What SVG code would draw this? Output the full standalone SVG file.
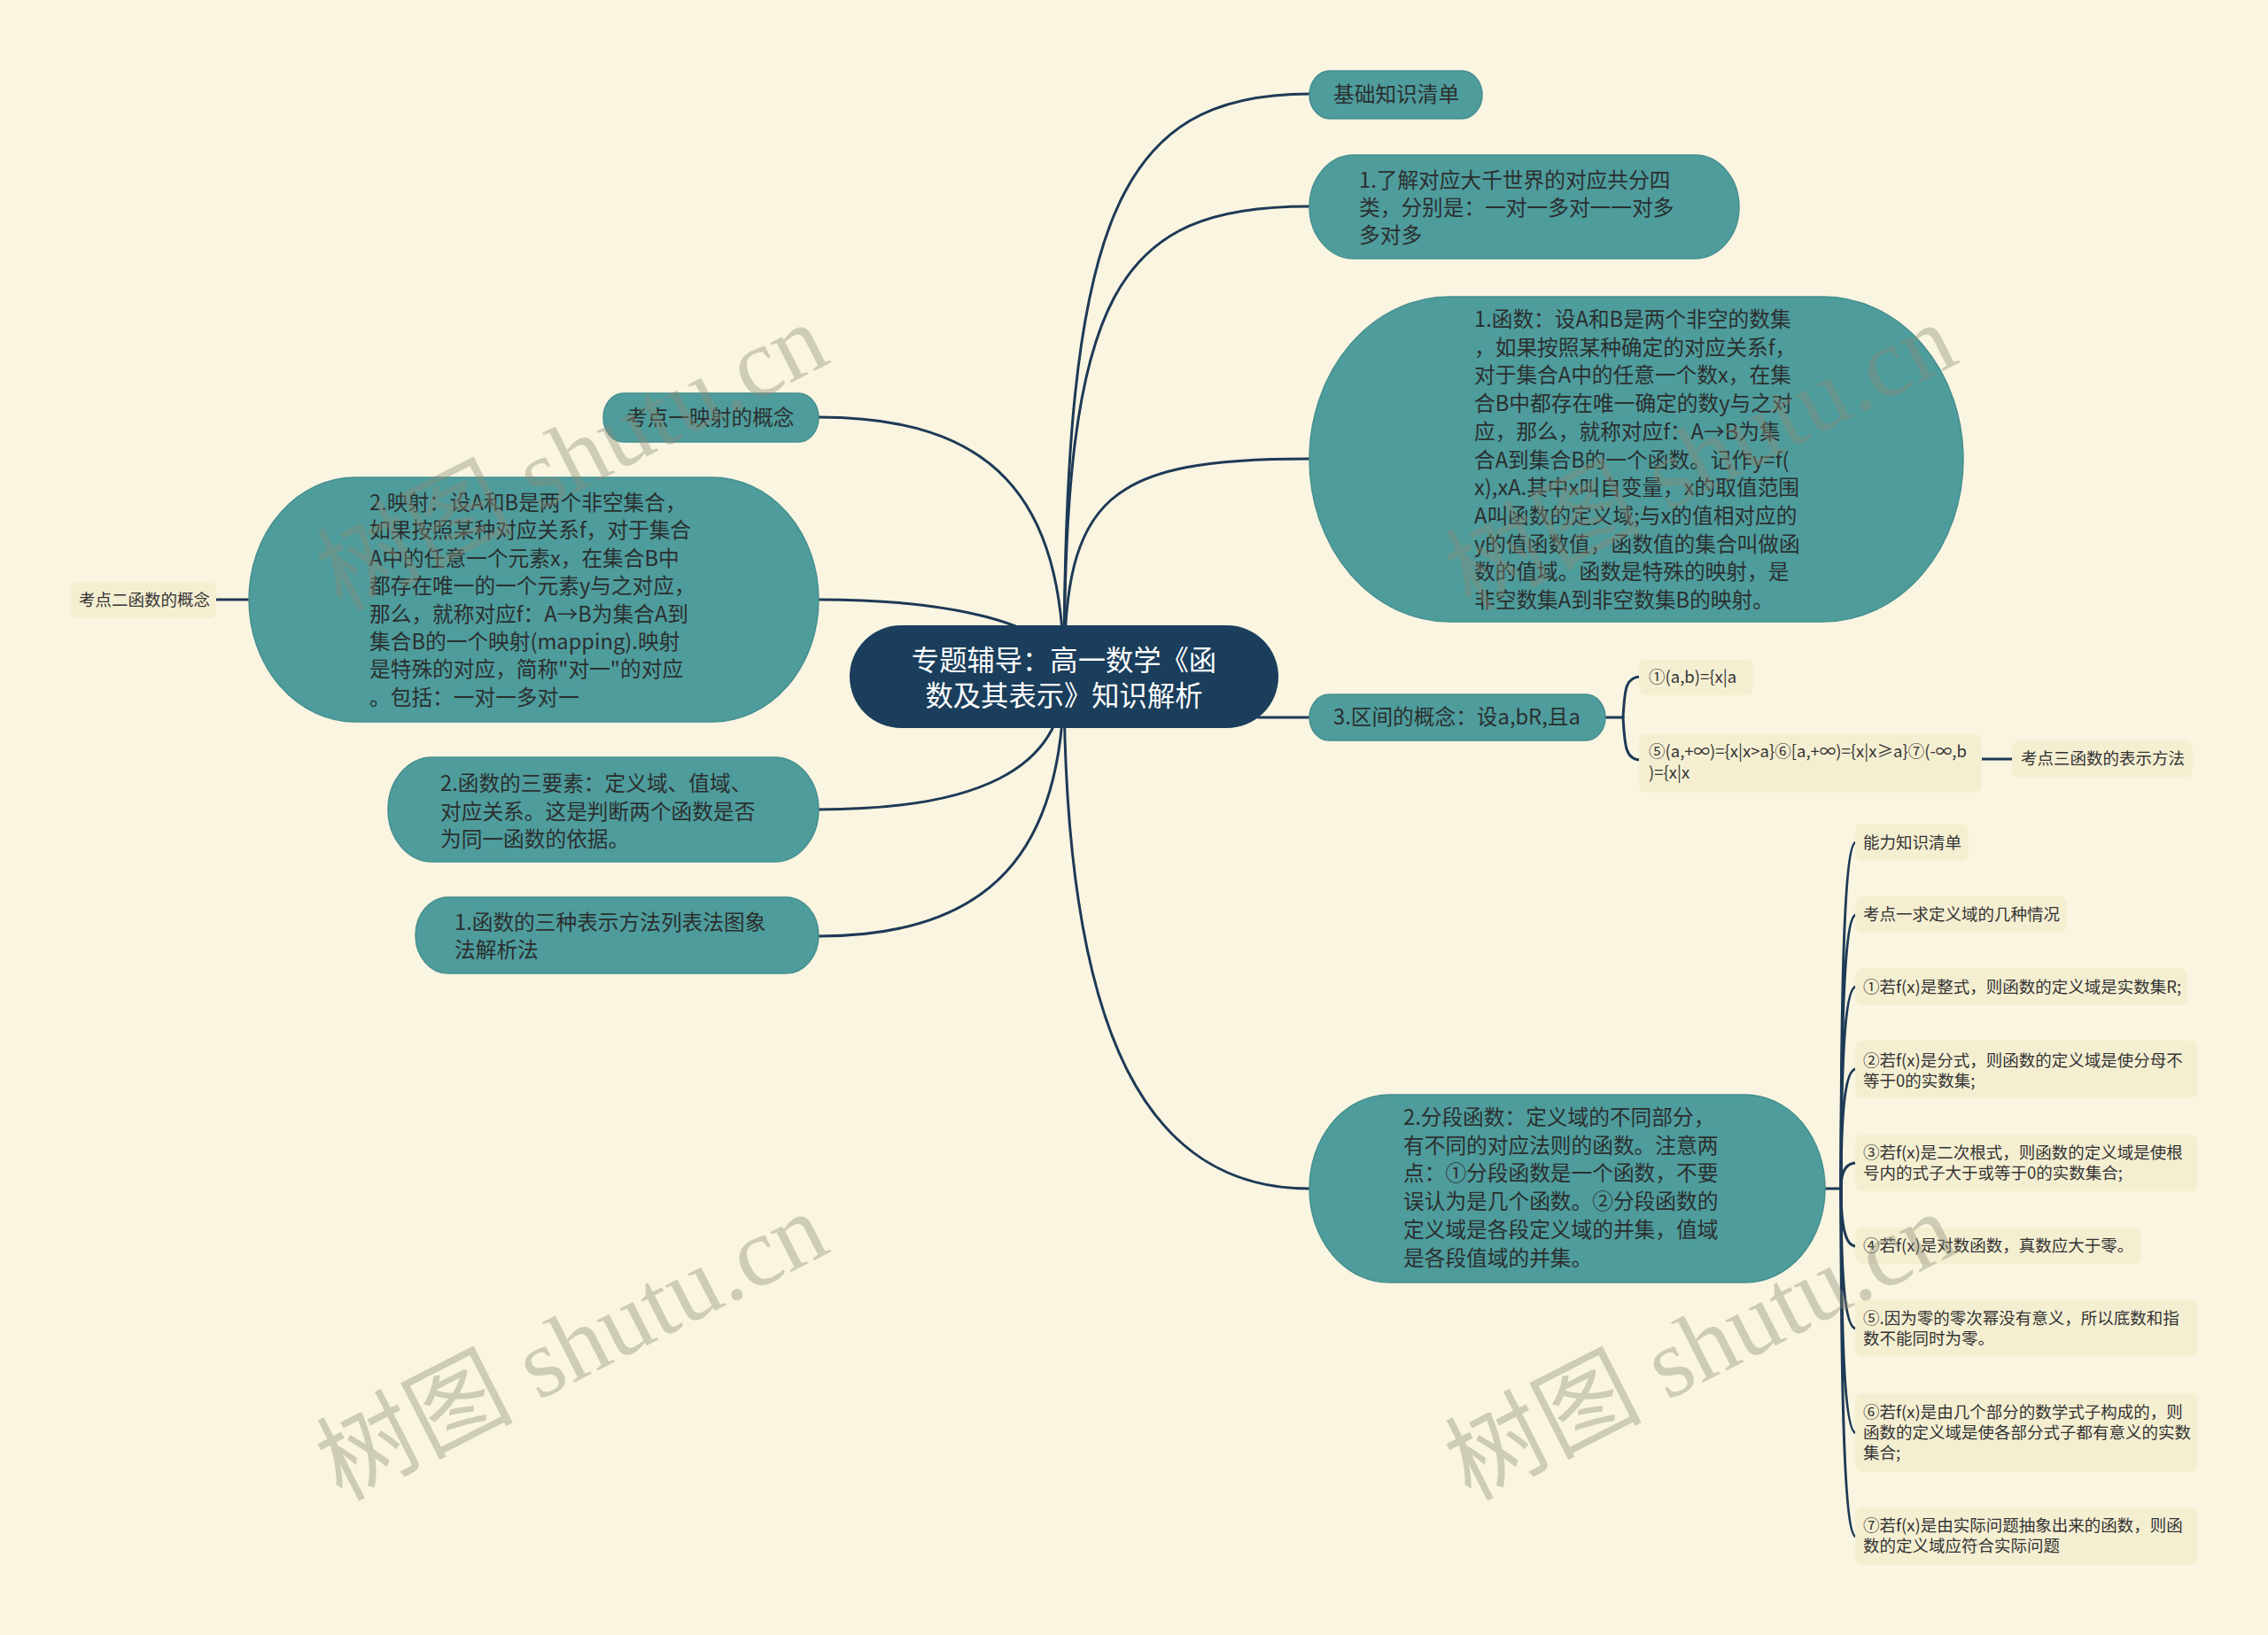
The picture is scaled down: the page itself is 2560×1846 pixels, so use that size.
<svg xmlns="http://www.w3.org/2000/svg" width="2560" height="1846" viewBox="0 0 2560 1846">
<style>
.bg{fill:#faf5e1}
.teal{fill:#4e9c9c;stroke:#468f8f;stroke-width:1.5}
.light{fill:#f5efd2}
.root{fill:#1a3e5c}
.t{font-family:"Noto Sans CJK SC","Noto Sans",sans-serif;font-size:23.7px;fill:#2b2f2f}
.s{font-family:"Noto Sans CJK SC","Noto Sans",sans-serif;font-size:18.5px;fill:#333333}
.rt{font-family:"Noto Sans CJK SC","Noto Sans",sans-serif;font-size:31.3px;fill:#ffffff;text-anchor:middle}
.c{fill:none;stroke:#1d3a56;stroke-width:3;stroke-linecap:round}
.wm{font-family:"Liberation Serif","Noto Sans CJK SC",serif;font-size:111px;fill:#8c8c78;fill-opacity:0.4}
</style>
<rect class="bg" x="0" y="0" width="2560" height="1846"/>
<g id="connectors">
<path class="c" d="M1201,764 C1201,250 1260,106 1478,106"/>
<path class="c" d="M1201,764 C1201,330 1260,233 1478,233"/>
<path class="c" d="M1201,764 C1201,560 1250,518 1478,518"/>
<path class="c" d="M1420,810 L1478,810"/>
<path class="c" d="M1201,764 C1201,1180 1300,1342 1478,1342"/>
<path class="c" d="M1201,764 C1201,560 1120,471 924,471"/>
<path class="c" d="M1201,764 C1201,700 1060,677 924,677"/>
<path class="c" d="M1201,764 C1201,870 1100,914 924,914"/>
<path class="c" d="M1201,764 C1201,960 1120,1057 924,1057"/>
<path class="c" d="M280,677 L244,677"/>
<path class="c" d="M1812,810 L1832,810"/>
<path class="c" d="M1832,810 C1834,780 1834,764 1852,764"/>
<path class="c" d="M1832,810 C1834,840 1834,858 1852,858"/>
<path class="c" d="M2237,857 L2271,857"/>
<path class="c" d="M2060,1342 L2078,1342"/>
<path class="c" d="M2078,1342 C2078,1107 2082,951 2095,951"/>
<path class="c" d="M2078,1342 C2078,1156 2082,1033 2095,1033"/>
<path class="c" d="M2078,1342 C2078,1205 2082,1114 2095,1114"/>
<path class="c" d="M2078,1342 C2078,1262 2082,1207 2095,1207"/>
<path class="c" d="M2078,1342 C2078,1325 2082,1313 2095,1313"/>
<path class="c" d="M2078,1342 C2078,1381 2082,1407 2095,1407"/>
<path class="c" d="M2078,1342 C2078,1437 2082,1500 2095,1500"/>
<path class="c" d="M2078,1342 C2078,1508 2082,1618 2095,1618"/>
<path class="c" d="M2078,1342 C2078,1578 2082,1735 2095,1735"/>
</g>
<g id="root">
<rect class="root" x="959" y="706" width="484" height="116" rx="58" ry="58"/>
<text class="rt" x="1201" y="757">专题辅导：高一数学《函</text>
<text class="rt" x="1201" y="797">数及其表示》知识解析</text>
</g>
<g id="n-jichu">
<rect class="teal" x="1478" y="80" width="195" height="54" rx="23" ry="27"/>
<text class="t" x="1505" y="115">基础知识清单</text>
</g>
<g id="n-liaojie">
<rect class="teal" x="1478" y="175" width="485" height="117" rx="50" ry="58.5"/>
<text class="t"><tspan x="1534" y="212">1.了解对应大千世界的对应共分四</tspan><tspan x="1534" y="243">类，分别是：一对一多对一一对多</tspan><tspan x="1534" y="274">多对多</tspan></text>
</g>
<g id="n-hanshu">
<rect class="teal" x="1478" y="335" width="738" height="367" rx="158" ry="183.5"/>
<text class="t"><tspan x="1664" y="369">1.函数：设A和B是两个非空的数集</tspan><tspan x="1664" y="400.7">，如果按照某种确定的对应关系f，</tspan><tspan x="1664" y="432.4">对于集合A中的任意一个数x，在集</tspan><tspan x="1664" y="464.1">合B中都存在唯一确定的数y与之对</tspan><tspan x="1664" y="495.8">应，那么，就称对应f：A→B为集</tspan><tspan x="1664" y="527.5">合A到集合B的一个函数。记作y=f(</tspan><tspan x="1664" y="559.2">x),xA.其中x叫自变量，x的取值范围</tspan><tspan x="1664" y="590.9">A叫函数的定义域;与x的值相对应的</tspan><tspan x="1664" y="622.6">y的值函数值，函数值的集合叫做函</tspan><tspan x="1664" y="654.3">数的值域。函数是特殊的映射，是</tspan><tspan x="1664" y="686">非空数集A到非空数集B的映射。</tspan></text>
</g>
<g id="n-qujian">
<rect class="teal" x="1478" y="784" width="334" height="52" rx="22" ry="26"/>
<text class="t" x="1505" y="818">3.区间的概念：设a,bR,且a</text>
</g>
<g id="n-q1">
<rect class="light" x="1850" y="745" width="129" height="40" rx="8"/>
<text class="s" x="1861" y="771">①(a,b)={x|a</text>
</g>
<g id="n-q5">
<rect class="light" x="1850" y="829" width="387" height="66" rx="8"/>
<text class="s"><tspan x="1861" y="855">⑤(a,+∞)={x|x&gt;a}⑥[a,+∞)={x|x≥a}⑦(-∞,b</tspan><tspan x="1861" y="879">)={x|x</tspan></text>
</g>
<g id="n-kd3">
<rect class="light" x="2271" y="836" width="204" height="42" rx="8"/>
<text class="s" x="2281" y="863">考点三函数的表示方法</text>
</g>
<g id="n-fenduan">
<rect class="teal" x="1478" y="1236" width="582" height="212" rx="90" ry="106"/>
<text class="t"><tspan x="1584" y="1270">2.分段函数：定义域的不同部分，</tspan><tspan x="1584" y="1301.7">有不同的对应法则的函数。注意两</tspan><tspan x="1584" y="1333.4">点：①分段函数是一个函数，不要</tspan><tspan x="1584" y="1365.1">误认为是几个函数。②分段函数的</tspan><tspan x="1584" y="1396.8">定义域是各段定义域的并集，值域</tspan><tspan x="1584" y="1428.5">是各段值域的并集。</tspan></text>
</g>
<g id="n-nengli">
<rect class="light" x="2094" y="930" width="128" height="42" rx="8"/>
<text class="s" x="2103" y="958">能力知识清单</text>
</g>
<g id="n-kd1q">
<rect class="light" x="2094" y="1012" width="239" height="41" rx="8"/>
<text class="s" x="2103" y="1039">考点一求定义域的几种情况</text>
</g>
<g id="n-r1">
<rect class="light" x="2094" y="1093" width="375" height="42" rx="8"/>
<text class="s" x="2103" y="1121">①若f(x)是整式，则函数的定义域是实数集R;</text>
</g>
<g id="n-r2">
<rect class="light" x="2094" y="1175" width="387" height="65" rx="8"/>
<text class="s"><tspan x="2103" y="1204">②若f(x)是分式，则函数的定义域是使分母不</tspan><tspan x="2103" y="1227">等于0的实数集;</tspan></text>
</g>
<g id="n-r3">
<rect class="light" x="2094" y="1281" width="387" height="64" rx="8"/>
<text class="s"><tspan x="2103" y="1308">③若f(x)是二次根式，则函数的定义域是使根</tspan><tspan x="2103" y="1331">号内的式子大于或等于0的实数集合;</tspan></text>
</g>
<g id="n-r4">
<rect class="light" x="2094" y="1386" width="323" height="41" rx="8"/>
<text class="s" x="2103" y="1413">④若f(x)是对数函数，真数应大于零。</text>
</g>
<g id="n-r5">
<rect class="light" x="2094" y="1467" width="387" height="65" rx="8"/>
<text class="s"><tspan x="2103" y="1495">⑤.因为零的零次幂没有意义，所以底数和指</tspan><tspan x="2103" y="1518">数不能同时为零。</tspan></text>
</g>
<g id="n-r6">
<rect class="light" x="2094" y="1573" width="387" height="89" rx="8"/>
<text class="s"><tspan x="2103" y="1601">⑥若f(x)是由几个部分的数学式子构成的，则</tspan><tspan x="2103" y="1624">函数的定义域是使各部分式子都有意义的实数</tspan><tspan x="2103" y="1647">集合;</tspan></text>
</g>
<g id="n-r7">
<rect class="light" x="2094" y="1702" width="387" height="65" rx="8"/>
<text class="s"><tspan x="2103" y="1729">⑦若f(x)是由实际问题抽象出来的函数，则函</tspan><tspan x="2103" y="1752">数的定义域应符合实际问题</tspan></text>
</g>
<g id="n-kd1">
<rect class="teal" x="681" y="444" width="243" height="55" rx="23" ry="27.5"/>
<text class="t" x="707" y="480">考点一映射的概念</text>
</g>
<g id="n-yingshe">
<rect class="teal" x="281" y="539" width="643" height="276" rx="120" ry="138"/>
<text class="t"><tspan x="417" y="576">2.映射：设A和B是两个非空集合，</tspan><tspan x="417" y="607.4">如果按照某种对应关系f，对于集合</tspan><tspan x="417" y="638.8">A中的任意一个元素x，在集合B中</tspan><tspan x="417" y="670.2">都存在唯一的一个元素y与之对应，</tspan><tspan x="417" y="701.6">那么，就称对应f：A→B为集合A到</tspan><tspan x="417" y="733">集合B的一个映射(mapping).映射</tspan><tspan x="417" y="764.4">是特殊的对应，简称"对一"的对应</tspan><tspan x="417" y="795.8">。包括：一对一多对一</tspan></text>
</g>
<g id="n-kd2">
<rect class="light" x="80" y="657" width="164" height="41" rx="8"/>
<text class="s" x="89" y="684">考点二函数的概念</text>
</g>
<g id="n-sanyaosu">
<rect class="teal" x="438" y="855" width="486" height="118" rx="50" ry="59"/>
<text class="t"><tspan x="497" y="893">2.函数的三要素：定义域、值域、</tspan><tspan x="497" y="924.5">对应关系。这是判断两个函数是否</tspan><tspan x="497" y="956">为同一函数的依据。</tspan></text>
</g>
<g id="n-sanzhong">
<rect class="teal" x="469" y="1013" width="455" height="86" rx="37" ry="43"/>
<text class="t"><tspan x="513" y="1050">1.函数的三种表示方法列表法图象</tspan><tspan x="513" y="1081">法解析法</tspan></text>
</g>
<g id="watermarks">
<text class="wm" transform="translate(385,691) rotate(-27)">树图 shutu.cn</text>
<text class="wm" transform="translate(1659,691) rotate(-27)">树图 shutu.cn</text>
<text class="wm" transform="translate(385,1695) rotate(-27)">树图 shutu.cn</text>
<text class="wm" transform="translate(1659,1695) rotate(-27)">树图 shutu.cn</text>
</g>
</svg>
